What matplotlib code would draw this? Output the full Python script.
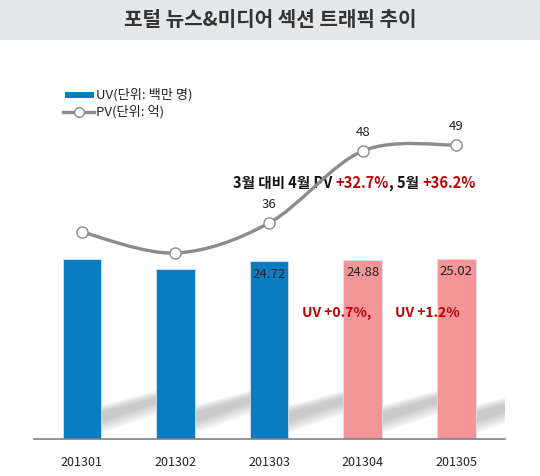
import numpy as np
import matplotlib
matplotlib.use("Agg")
from matplotlib import pyplot as plt
from matplotlib.path import Path
from matplotlib.patches import PathPatch, Rectangle, Polygon
from matplotlib.lines import Line2D

plt.rcParams['font.family'] = ['Noto Sans CJK KR', 'DejaVu Sans']

months   = ['201301', '201302', '201303', '201304', '201305']
uv       = [25.0, 23.6, 24.72, 24.88, 25.02]
pv       = [34.5, 31.0, 36, 48, 49]
uv_label = ['', '', '24.72', '24.88', '25.02']
pv_label = ['', '', '36', '48', '49']
colors   = ['#0a7cc4', '#0a7cc4', '#0a7cc4', '#f49597', '#f49597']

W, H = 540, 476
fig = plt.figure(figsize=(5.4, 4.76), dpi=100)

def fx(px): return px / W
def fy(py): return 1 - py / H

# title bar
fig.patches.append(Rectangle((0, fy(40)), 1, 40 / H, transform=fig.transFigure,
                             facecolor='#e6e7e8', edgecolor='none', zorder=0))
fig.text(0.5, fy(20), '포털 뉴스&미디어 섹션 트래픽 추이', ha='center', va='center',
         fontsize=14.5, fontweight='bold', color='#333333')

ax = fig.add_axes([fx(34), fy(439), fx(505) - fx(34), (439 - 60) / H])
x = np.arange(len(months))

# soft diagonal shadows behind the bars
for i in x:
    for k in range(6):
        s = k * 0.3
        pts = [(i + 0.2, 0.8 + s), (i + 0.2, 4.6 - s * 0.6),
               (i + 0.82, 6.8 - s * 0.6), (i + 0.82, 3.6 + s)]
        ax.add_patch(Polygon(pts, closed=True, facecolor='#8a8a8a', edgecolor='none',
                             alpha=0.09, zorder=1))

ax.bar(x, uv, width=0.41, color=colors, edgecolor='#cfe3f3', linewidth=0.6, zorder=2)
for i, (v, lab) in enumerate(zip(uv, uv_label)):
    if lab:
        ax.annotate(lab, (i, v), xytext=(0, -13), textcoords='offset pixels',
                    ha='center', va='center', fontsize=9.5, color='#222222', zorder=5)

ax.set_xlim(-0.51, 4.52)
ax.set_ylim(0, 379 / 7.2)
ax.set_xticks(x)
ax.set_xticklabels(months, fontsize=9, color='#222222')
ax.tick_params(axis='x', length=0, pad=12)
ax.set_yticks([])
for s in ['top', 'left', 'right']:
    ax.spines[s].set_visible(False)
ax.spines['bottom'].set_color('#808080')
ax.spines['bottom'].set_linewidth(1.2)

# PV on a second scale, smoothed like a spreadsheet line
ax2 = ax.twinx()
ax2.set_ylim(0, 379 / 6.0)
ax2.set_axis_off()
P = np.column_stack([x, pv]).astype(float)
ext = np.vstack([P[0], P, P[-1]])
verts = [tuple(P[0])]
codes = [Path.MOVETO]
for i in range(len(P) - 1):
    p0, p1, p2, p3 = ext[i], ext[i + 1], ext[i + 2], ext[i + 3]
    c1 = p1 + (p2 - p0) / 6
    c2 = p2 - (p3 - p1) / 6
    verts += [tuple(c1), tuple(c2), tuple(p2)]
    codes += [Path.CURVE4] * 3
ax2.add_patch(PathPatch(Path(verts, codes), facecolor='none', edgecolor='#8c8c8c',
                        linewidth=2.4, zorder=3))
ax2.plot(x, pv, linestyle='none', marker='o', markersize=8, markerfacecolor='white',
         markeredgecolor='#8c8c8c', markeredgewidth=1.0, zorder=4)
for i, (v, lab) in enumerate(zip(pv, pv_label)):
    if lab:
        ax2.annotate(lab, (i, v), xytext=(0, 19), textcoords='offset pixels',
                     ha='center', va='center', fontsize=9.5, color='#222222')

# growth notes
red = '#c00000'
pieces = [('3월 대비 4월 PV ', '#111111'), ('+32.7%', red), (', 5월 ', '#111111'), ('+36.2%', red)]
prev = ax.text(1.615, (439 - 183) / 7.2, pieces[0][0], ha='left', va='center',
               fontsize=10.5, fontweight='bold', fontstyle='italic', color=pieces[0][1], zorder=6)
for txt, c in pieces[1:]:
    prev = ax.annotate(txt, xy=(1, 0), xycoords=prev, ha='left', va='bottom',
                       fontsize=10.5, fontweight='bold', fontstyle='italic', color=c, zorder=6)
ax.text(2.72, (439 - 313) / 7.2, 'UV +0.7%,', ha='center', va='center', fontsize=10,
        fontweight='bold', fontstyle='italic', color=red, zorder=6)
ax.text(3.69, (439 - 313) / 7.2, 'UV +1.2%', ha='center', va='center', fontsize=10,
        fontweight='bold', fontstyle='italic', color=red, zorder=6)

# legend
fig.patches.append(Rectangle((fx(65), fy(98)), fx(94) - fx(65), 6 / H, transform=fig.transFigure,
                             facecolor='#0a7cc4', edgecolor='none'))
fig.text(fx(96), fy(95), 'UV(단위: 백만 명)', ha='left', va='center', fontsize=9.5, color='#222222')
fig.lines.append(Line2D([fx(63), fx(94)], [fy(112), fy(112)], transform=fig.transFigure,
                        color='#8c8c8c', linewidth=2.4))
fig.lines.append(Line2D([fx(79)], [fy(112)], transform=fig.transFigure, linestyle='none',
                        marker='o', markersize=7, markerfacecolor='white',
                        markeredgecolor='#8c8c8c', markeredgewidth=1.0))
fig.text(fx(96), fy(112), 'PV(단위: 억)', ha='left', va='center', fontsize=9.5, color='#222222')

fig.savefig('out.png', dpi=100)
